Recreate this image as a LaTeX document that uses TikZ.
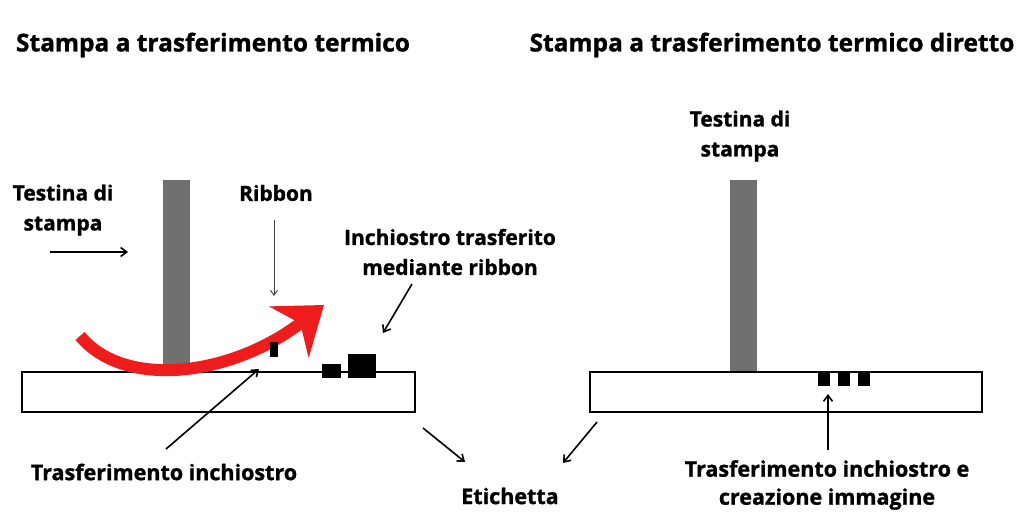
\documentclass[tikz,border=0pt]{standalone}
\usepackage{fontspec}
\setmainfont{Open Sans}[BoldFeatures={FakeBold=1.2}]
\usetikzlibrary{arrows.meta}

\definecolor{headgray}{HTML}{707070}
\definecolor{ribbonred}{HTML}{EE1C1C}

\begin{document}
\begin{tikzpicture}[x=1pt,y=-1pt]
\tikzset{title/.style = {font=\bfseries\fontsize{24.5}{28}\selectfont, inner sep=0pt},
	lbl/.style = {font=\bfseries\fontsize{21}{30}\selectfont, align=center, inner sep=0pt},
	lowlbl/.style = {font=\bfseries\fontsize{21.5}{28}\selectfont, align=center, inner sep=0pt},
	head/.style = {fill=headgray, draw=none},
	labelbox/.style = {draw=black, line width=2pt, fill=white},
	ink/.style = {fill=black, draw=none},
	pointer/.style = {-{Straight Barb[length=6pt,width=9pt]}, line width=1.6pt}}
\useasboundingbox (0,0) rectangle (1024,513);

% titoli
\node[title] (tleft) at (213,45) {Stampa a trasferimento termico};
\node[title] (tright) at (772,45) {Stampa a trasferimento termico diretto};

% --- trasferimento termico
\draw[labelbox] (22,372) rectangle (415,412);
\fill[head] (163,180) rectangle (190,371);
\fill[ink] (322,364) rectangle (341,378);
\fill[ink] (348,354) rectangle (376,378);
\draw[ribbonred, line width=12pt,
	-{Stealth[length=44pt,width=64pt,inset=14pt]}]
	(80,336) .. controls (125,390) and (232,376) .. (324,305);
\fill[ink] (270,342) rectangle (278,357);

\node[lbl] (headL) at (63,210) {Testina di\\stampa};
\coordinate (hA) at (50,252); \coordinate (hB) at (128,252);
\draw[pointer] (hA) -- (hB);

\node[lbl] (ribbon) at (276,193) {Ribbon};
\coordinate (rb) at (274,296);
\draw[-{Straight Barb[length=5pt,width=7pt]}, line width=0.9pt, black!75] (274,220) -- (rb);

\node[lbl] (inkL) at (450,252) {Inchiostro trasferito\\mediante ribbon};
\coordinate (inkA) at (412,284); \coordinate (inkB) at (383,333);
\draw[pointer] (inkA) -- (inkB);

\node[lowlbl] (transfL) at (164,472) {Trasferimento inchiostro};
\coordinate (tA) at (166,449); \coordinate (tB) at (259,369);
\draw[pointer] (tA) -- (tB);

% etichetta
\node[lowlbl] (label) at (510,496) {Etichetta};
\coordinate (eA) at (423,428); \coordinate (eB) at (465,462);
\coordinate (eC) at (597,422); \coordinate (eD) at (563,463);
\draw[pointer] (eA) -- (eB);
\draw[pointer] (eC) -- (eD);

% --- trasferimento termico diretto
\draw[labelbox] (590,372) rectangle (982,412);
\fill[head] (730,180) rectangle (757,371);
\foreach \x in {818,838,858}
	\fill[ink] (\x,373) rectangle ++(12,13);

\node[lbl] (headR) at (740,136) {Testina di\\stampa};

\node[lowlbl] (transfR) at (827,485) {Trasferimento inchiostro e\\creazione immagine};
\coordinate (uA) at (828,450); \coordinate (uB) at (828,394);
\draw[pointer] (uA) -- (uB);
\end{tikzpicture}
\end{document}
